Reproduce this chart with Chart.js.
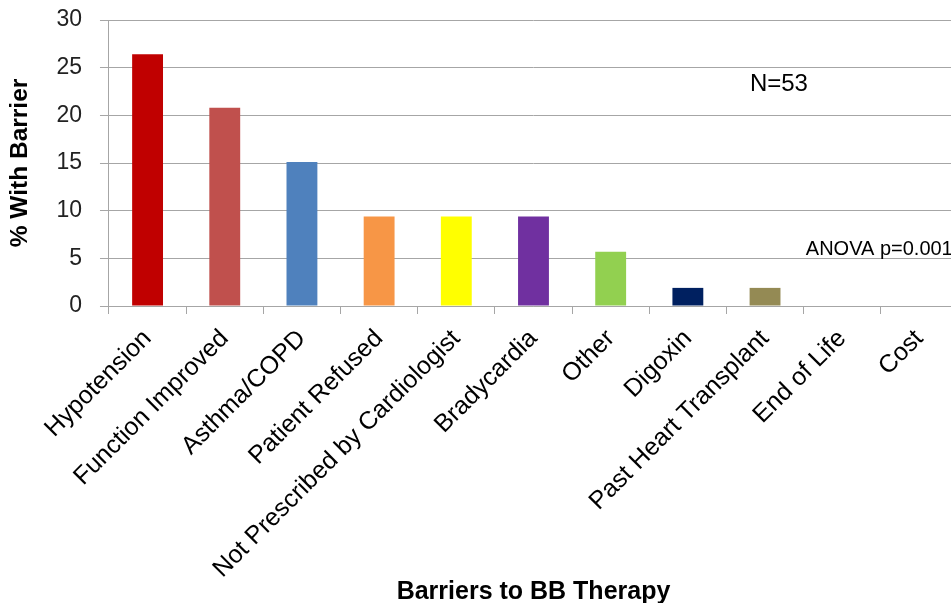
<!DOCTYPE html>
<html>
<head>
<meta charset="utf-8">
<script src="https://cdn.jsdelivr.net/npm/chart.js@4/dist/chart.umd.min.js"></script>
<style>
html,body{margin:0;padding:0;background:#fff;overflow:hidden;}
#wrap{width:958px;height:603px;position:relative;}
</style>
</head>
<body>
<div id="wrap"><canvas id="c"></canvas></div>
<script>
const categories = ["Hypotension","Function Improved","Asthma/COPD","Patient Refused","Not Prescribed by Cardiologist","Bradycardia","Other","Digoxin","Past Heart Transplant","End of Life","Cost"];
const values = [26.4, 20.8, 15.1, 9.4, 9.4, 9.4, 5.7, 1.9, 1.9, 0, 0];
const barColors = ["#C00000","#C0504D","#4F81BD","#F79646","#FFFF00","#7030A0","#92D050","#002060","#948A54","#4BACC6","#1F497D"];
const yTicks = [0,5,10,15,20,25,30];
const notes = [
  {text:"N=53", x:8.18, y:23.2, size:24},
  {text:"ANOVA p=0.001", x:9.48, y:5.9, size:20}
];

const FONT = '"Liberation Sans", Arial, sans-serif';

const notePlugin = {
  id:'notes',
  afterDraw(chart){
    const ctx = chart.ctx, xs = chart.scales.x, ys = chart.scales.y;
    ctx.save();
    ctx.fillStyle = '#000';
    ctx.textAlign = 'center';
    ctx.textBaseline = 'middle';
    notes.forEach(n=>{
      ctx.font = n.size + 'px ' + FONT;
      ctx.fillText(n.text, xs.getPixelForValue(n.x), ys.getPixelForValue(n.y));
    });
    ctx.restore();
  }
};

new Chart(document.getElementById('c'), {
  type:'bar',
  data:{
    labels:categories,
    datasets:[{data:values, backgroundColor:barColors, barPercentage:0.4, categoryPercentage:1.0}]
  },
  options:{
    responsive:true,
    maintainAspectRatio:false,
    animation:false,
    layout:{padding:{left:6,right:0,top:0,bottom:0}},
    plugins:{legend:{display:false}, tooltip:{enabled:false}},
    scales:{
      x:{
        afterFit(scale){ scale.height = 297; },
        grid:{display:true, drawOnChartArea:false, drawTicks:true, tickLength:8, color:'#a6a6a6', offset:true},
        border:{color:'#a6a6a6', width:1},
        ticks:{color:'#000', maxRotation:45, minRotation:45, autoSkip:false, padding:10,
               font:{family:FONT, size:25}},
        title:{display:true, text:'Barriers to BB Therapy', color:'#000', padding:{top:0,bottom:-4},
               font:{family:FONT, size:25, weight:'bold'}}
      },
      y:{
        min:0, max:30,
        afterBuildTicks(scale){ scale.ticks = yTicks.map(v=>({value:v})); },
        afterFit(scale){ scale.paddingTop = 20; scale.paddingBottom = 0; },
        grid:{color:'#a6a6a6', tickLength:9, drawTicks:true},
        border:{color:'#a6a6a6', width:1},
        ticks:{color:'#222', padding:18, font:{family:FONT, size:23}},
        title:{display:true, text:'% With Barrier', color:'#000', padding:{top:0,bottom:3},
               font:{family:FONT, size:24.5, weight:'bold'}}
      }
    }
  },
  plugins:[notePlugin]
});
</script>
</body>
</html>
